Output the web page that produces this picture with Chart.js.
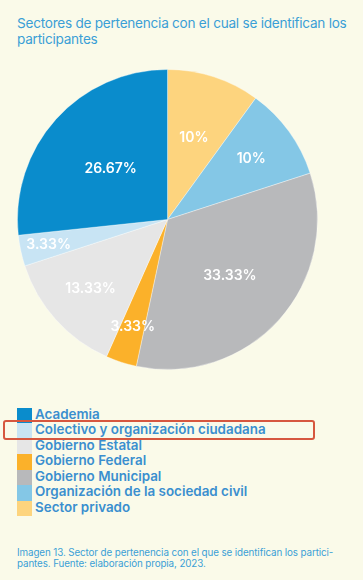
<!DOCTYPE html>
<html>
<head>
<meta charset="utf-8">
<script src="https://cdn.jsdelivr.net/npm/chart.js@4"></script>
<style>
  html, body { margin: 0; padding: 0; }
  body { width: 363px; height: 580px; background: #fafae9; position: relative; overflow: hidden; font-family: "Inter", "Noto Sans", sans-serif; }
  #title { position: absolute; left: 17px; top: 15px; width: 346px; font-size: 13.6px; line-height: 16px; color: #3a9fd6; font-weight: 400; letter-spacing: -0.25px; white-space: nowrap; }
  #wrap { position: absolute; left: 17px; top: 69px; width: 301px; height: 301px; }
  #legend { position: absolute; left: 17px; top: 407.5px; }
  .item { display: flex; align-items: center; height: 15.5px; }
  .sw { width: 15px; height: 15.5px; margin-right: 3px; }
  .lt { font-size: 13.4px; font-weight: 600; color: #3a8fcf; line-height: 15px; white-space: nowrap; position: relative; top: -1px; }
  #box { position: absolute; left: 3px; top: 420px; width: 308px; height: 16px; border: 2px solid #d6573f; border-radius: 3px; }
  #caption { position: absolute; left: 17px; top: 547px; font-size: 9.8px; line-height: 11px; color: #3a9fd6; white-space: nowrap; letter-spacing: -0.1px; }
</style>
</head>
<body>
<div id="title">Sectores de pertenencia con el cual se identifican los<br>participantes</div>
<div id="wrap"><canvas id="c"></canvas></div>
<div id="legend"></div>
<div id="box"></div>
<div id="caption">Imagen 13. Sector de pertenencia con el que se identifican los partici-<br>pantes. Fuente: elaboración propia, 2023.</div>
<script>
// Data in legend order
const categories = ["Academia", "Colectivo y organización ciudadana", "Gobierno Estatal", "Gobierno Federal", "Gobierno Municipal", "Organización de la sociedad civil", "Sector privado"];
const values = [26.67, 3.33, 13.33, 3.33, 33.33, 10, 10];
const valueLabels = ["26.67%", "3.33%", "13.33%", "3.33%", "33.33%", "10%", "10%"];
const colors = ["#0a8ccc", "#c8e4f4", "#e6e6e6", "#fbb12a", "#b8b9bb", "#84c7e6", "#fdd47e"];
// label distance from centre as fraction of radius (style)
const labelRadius = [0.51, 0.81, 0.69, 0.75, 0.56, 0.69, 0.57];

// Pie is drawn clockwise from the top starting with the last legend entry
const order = categories.map((_, i) => i).reverse();

const labelPlugin = {
  id: 'sliceLabels',
  afterDatasetsDraw(chart) {
    const ctx = chart.ctx;
    const meta = chart.getDatasetMeta(0);
    ctx.save();
    ctx.fillStyle = '#ffffff';
    ctx.font = '600 14px Inter, "Noto Sans", sans-serif';
    ctx.textAlign = 'center';
    ctx.textBaseline = 'middle';
    meta.data.forEach((arc, j) => {
      const i = order[j];
      const p = arc.getProps(['x', 'y', 'startAngle', 'endAngle', 'outerRadius'], true);
      const mid = (p.startAngle + p.endAngle) / 2;
      const r = p.outerRadius * labelRadius[i];
      ctx.fillText(valueLabels[i], p.x + Math.cos(mid) * r, p.y + Math.sin(mid) * r);
    });
    ctx.restore();
  }
};

const chart = new Chart(document.getElementById('c'), {
  type: 'pie',
  data: {
    labels: order.map(i => categories[i]),
    datasets: [{
      data: order.map(i => values[i]),
      backgroundColor: order.map(i => colors[i]),
      borderColor: 'rgba(255,255,255,0.35)',
      borderWidth: 1
    }]
  },
  options: {
    responsive: true,
    maintainAspectRatio: false,
    animation: false,
    layout: { padding: 0 },
    plugins: { legend: { display: false }, tooltip: { enabled: false } }
  },
  plugins: [labelPlugin]
});

// HTML legend in the original (legend) order
const leg = document.getElementById('legend');
categories.forEach((name, i) => {
  const d = document.createElement('div');
  d.className = 'item';
  d.innerHTML = '<div class="sw" style="background:' + colors[i] + '"></div><div class="lt">' + name + '</div>';
  leg.appendChild(d);
});
</script>
</body>
</html>
